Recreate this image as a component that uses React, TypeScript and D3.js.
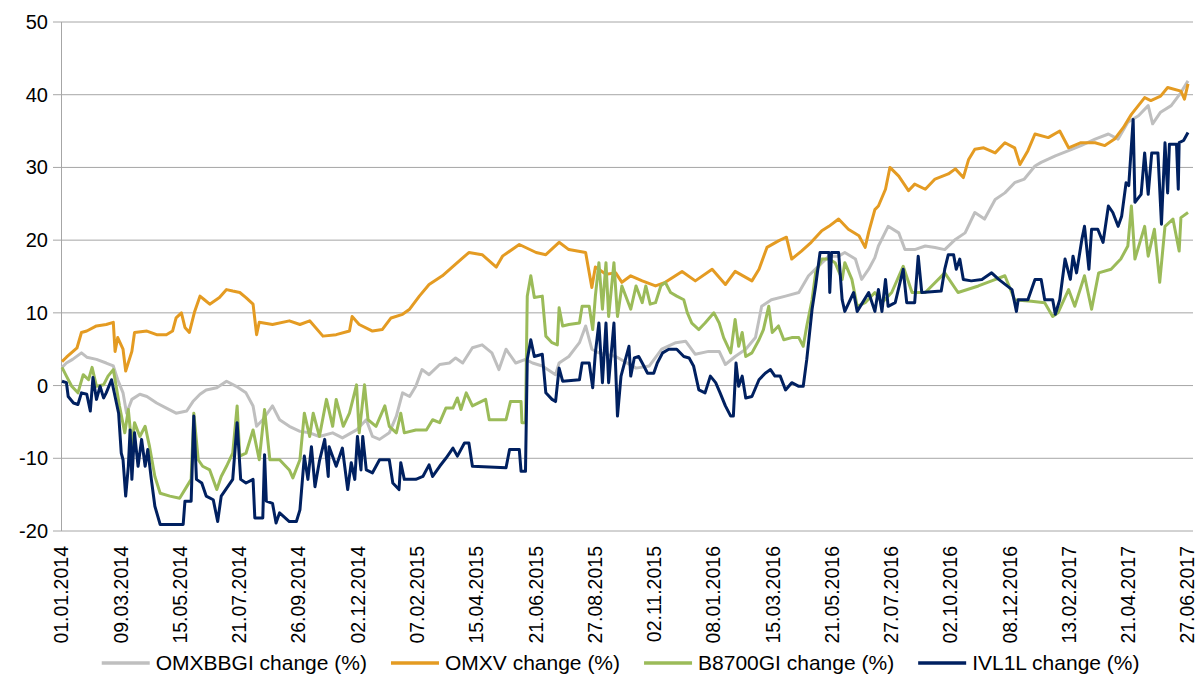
import * as React from "react";
import * as d3 from "d3";

// day offsets counted from 01.01.2014, value = change in %
const START = "2014-01-01";

const xTickLabels = [
  "01.01.2014", "09.03.2014", "15.05.2014", "21.07.2014", "26.09.2014",
  "02.12.2014", "07.02.2015", "15.04.2015", "21.06.2015", "27.08.2015",
  "02.11.2015", "08.01.2016", "15.03.2016", "21.05.2016", "27.07.2016",
  "02.10.2016", "08.12.2016", "13.02.2017", "21.04.2017", "27.06.2017",
];
const yTicks = [-20, -10, 0, 10, 20, 30, 40, 50];

const seriesNames = ["OMXBBGI change (%)", "OMXV change (%)", "B8700GI change (%)", "IVL1L change (%)"];
const seriesColors = ["#bfbfbf", "#e49b22", "#9bbb59", "#002060"];

const omxbbgi: [number, number][] = [
  [0, 2.5], [5, 3.1], [12, 3.6], [22, 4.5], [28, 3.9], [39, 3.6], [50, 3.1], [58, 2.7],
  [63, 0.8], [69, -1.0], [73, -3.8], [79, -1.9], [88, -1.2], [96, -1.5], [107, -2.4],
  [118, -3.1], [129, -3.8], [141, -3.5], [148, -2.2], [156, -1.2], [163, -0.6], [175, -0.3],
  [186, 0.6], [197, -0.1], [208, -1.0], [216, -2.8], [220, -5.6], [227, -4.7], [238, -2.8],
  [246, -4.7], [257, -5.6], [269, -6.3], [280, -6.5], [291, -7.0], [306, -6.5], [317, -7.2],
  [333, -6.1], [344, -4.7], [351, -7.0], [359, -7.4], [370, -6.5], [378, -4.2], [385, -1.0],
  [393, -1.5], [400, -0.1], [407, 2.2], [415, 1.5], [427, 2.9], [438, 3.1], [445, 3.8],
  [453, 3.1], [464, 5.2], [475, 5.6], [486, 4.5], [494, 2.2], [502, 5.0], [513, 3.1],
  [524, 3.6], [532, 3.1], [543, 2.7], [558, 1.5], [562, 3.1], [573, 4.0], [585, 5.9],
  [592, 8.2], [599, 5.0], [607, 4.5], [626, 4.0], [649, 2.4], [664, 2.7], [678, 5.0],
  [694, 5.9], [705, 6.1], [716, 4.3], [731, 4.7], [743, 4.7], [750, 2.9], [761, 4.0],
  [773, 5.0], [784, 6.6], [791, 10.9], [802, 11.8], [818, 12.3], [833, 12.8], [844, 15.1],
  [855, 16.4], [867, 17.8], [878, 17.8], [885, 18.3], [897, 17.4], [904, 14.6], [912, 16.0],
  [919, 17.6], [923, 19.2], [934, 21.9], [946, 21.0], [953, 18.7], [964, 18.7], [976, 19.2],
  [987, 19.0], [998, 18.7], [1010, 20.1], [1021, 21.0], [1032, 23.8], [1043, 22.9],
  [1055, 25.6], [1066, 26.5], [1077, 27.9], [1088, 28.4], [1100, 30.2], [1107, 30.7],
  [1123, 31.6], [1138, 32.3], [1152, 33.0], [1168, 33.9], [1183, 34.6], [1194, 33.9],
  [1205, 36.2], [1217, 37.1], [1228, 38.5], [1233, 36.0], [1242, 37.6], [1254, 38.5],
  [1265, 40.3], [1273, 41.9],
];

const omxv: [number, number][] = [
  [0, 3.3], [5, 3.9], [17, 5.2], [22, 7.3], [28, 7.5], [39, 8.2], [50, 8.4], [58, 8.7],
  [60, 4.7], [63, 6.6], [69, 5.0], [72, 2.0], [79, 4.7], [82, 7.3], [96, 7.5], [107, 7.0],
  [118, 7.0], [125, 7.5], [129, 9.3], [135, 10.0], [139, 8.0], [144, 7.3], [150, 10.2],
  [156, 12.3], [161, 11.8], [167, 11.2], [178, 12.1], [186, 13.2], [193, 13.0], [201, 12.8],
  [208, 12.1], [216, 11.2], [220, 7.0], [223, 8.7], [238, 8.4], [257, 8.9], [269, 8.4],
  [280, 8.9], [295, 6.8], [310, 7.0], [325, 7.5], [328, 9.5], [336, 8.4], [351, 7.5],
  [362, 7.7], [372, 9.3], [385, 9.8], [393, 10.5], [404, 12.3], [415, 13.9], [430, 15.1],
  [445, 16.7], [460, 18.3], [475, 18.0], [491, 16.3], [498, 17.8], [517, 19.4], [536, 18.3],
  [547, 18.0], [562, 19.7], [573, 18.7], [592, 18.3], [599, 13.5], [603, 16.3], [615, 15.3],
  [626, 15.5], [633, 14.2], [643, 15.1], [656, 14.4], [671, 13.7], [682, 14.2], [701, 15.7],
  [716, 14.4], [735, 16.0], [750, 13.9], [761, 15.7], [780, 14.4], [788, 16.0], [797, 19.0],
  [810, 19.9], [819, 20.4], [825, 17.4], [836, 18.5], [847, 19.7], [859, 21.3], [867, 21.9],
  [878, 22.9], [889, 21.5], [901, 20.6], [908, 19.0], [912, 21.1], [919, 24.2], [923, 24.7],
  [931, 27.0], [936, 30.0], [946, 28.8], [957, 26.8], [964, 27.7], [976, 27.0], [987, 28.4],
  [1002, 29.1], [1010, 29.8], [1019, 28.6], [1025, 31.1], [1032, 32.5], [1042, 32.7],
  [1055, 32.0], [1066, 33.4], [1077, 32.7], [1083, 30.4], [1092, 32.3], [1100, 34.6],
  [1115, 34.1], [1128, 35.0], [1138, 32.7], [1152, 33.4], [1168, 33.4], [1179, 33.0],
  [1190, 33.9], [1200, 35.5], [1209, 37.3], [1224, 39.6], [1231, 39.2], [1242, 39.8],
  [1250, 41.0], [1265, 40.5], [1269, 39.4], [1273, 41.5],
];

const b8700gi: [number, number][] = [
  [0, 2.5], [5, 1.3], [11, -0.1], [18, -1.0], [24, 1.5], [30, 0.8], [34, 2.5], [39, -0.1],
  [47, 0.1], [52, 1.3], [58, 2.2], [60, 0.8], [65, -2.8], [71, -6.5], [75, -3.3], [79, -8.4],
  [82, -5.1], [88, -7.0], [94, -5.6], [99, -8.4], [105, -12.5], [111, -14.8], [122, -15.2],
  [133, -15.5], [141, -13.9], [146, -12.9], [149, -3.8], [154, -10.2], [159, -11.1],
  [167, -11.6], [175, -14.3], [180, -12.5], [186, -11.1], [193, -9.3], [198, -2.8],
  [201, -9.7], [208, -9.3], [216, -6.1], [223, -10.2], [229, -3.3], [235, -10.2],
  [246, -10.2], [257, -11.6], [261, -12.7], [269, -10.2], [274, -3.8], [280, -7.0],
  [284, -3.8], [291, -7.0], [299, -1.9], [306, -5.6], [310, -1.9], [318, -5.6], [325, -3.8],
  [333, 0.1], [336, -6.5], [342, 0.1], [346, -4.7], [355, -5.6], [365, -2.8], [370, -5.6],
  [378, -6.5], [383, -3.8], [387, -6.5], [400, -6.1], [412, -6.1], [419, -4.7], [427, -5.1],
  [434, -3.1], [442, -3.1], [447, -1.7], [451, -3.3], [457, -1.0], [464, -2.8], [479, -1.9],
  [483, -4.7], [502, -4.7], [507, -2.2], [519, -2.2], [520, -5.1], [524, -5.1], [526, 12.3],
  [530, 15.1], [534, 12.1], [543, 12.3], [547, 6.8], [554, 5.9], [560, 5.6], [562, 10.7],
  [566, 8.2], [573, 8.4], [585, 8.6], [588, 10.9], [596, 10.9], [600, 7.7], [603, 12.3],
  [607, 16.9], [611, 10.5], [615, 16.9], [618, 9.5], [624, 16.9], [628, 9.5], [633, 13.7],
  [643, 10.5], [649, 13.7], [656, 11.4], [660, 13.7], [665, 11.2], [671, 11.4], [677, 13.7],
  [682, 14.2], [688, 12.8], [695, 12.3], [703, 11.8], [707, 10.0], [712, 8.6], [720, 7.7],
  [727, 8.6], [737, 10.0], [743, 8.6], [748, 6.6], [756, 4.5], [761, 9.1], [765, 5.4],
  [769, 7.3], [773, 4.0], [780, 4.5], [788, 6.3], [793, 7.7], [799, 10.9], [803, 7.3],
  [810, 8.2], [816, 6.3], [825, 6.6], [833, 6.6], [838, 5.4], [842, 8.2], [848, 11.8],
  [852, 15.5], [859, 17.4], [867, 17.4], [874, 16.9], [882, 14.6], [885, 16.9], [893, 14.6],
  [899, 10.9], [908, 11.4], [919, 12.8], [927, 11.4], [938, 12.8], [951, 16.4], [961, 12.8],
  [976, 12.8], [998, 15.5], [1013, 12.8], [1036, 13.7], [1051, 14.4], [1066, 15.1],
  [1077, 11.8], [1096, 11.6], [1111, 11.4], [1120, 9.5], [1126, 10.0], [1138, 13.2],
  [1145, 10.9], [1156, 15.1], [1164, 10.5], [1172, 15.5], [1186, 16.0], [1197, 17.4],
  [1205, 19.2], [1209, 24.7], [1213, 17.4], [1224, 21.9], [1228, 17.8], [1235, 21.5],
  [1241, 14.2], [1247, 21.9], [1256, 22.9], [1263, 18.5], [1265, 23.1], [1273, 23.8],
];

const ivl1l: [number, number][] = [
  [0, 0.6], [5, 0.4], [7, -1.5], [13, -2.4], [18, -2.6], [22, -1.0], [28, -1.2], [32, -3.5],
  [35, 1.1], [39, -1.9], [43, -0.1], [47, -1.7], [50, -1.0], [56, 0.8], [60, -1.5],
  [64, -3.8], [67, -9.3], [69, -10.2], [72, -15.2], [75, -11.1], [77, -6.1], [79, -12.9],
  [82, -6.5], [86, -11.1], [90, -7.4], [94, -11.1], [97, -8.8], [101, -12.9], [105, -16.6],
  [111, -19.1], [137, -19.1], [139, -15.9], [146, -15.9], [149, -4.2], [152, -12.9],
  [158, -13.4], [163, -15.2], [171, -15.7], [176, -18.7], [180, -15.2], [193, -12.9],
  [198, -5.1], [202, -12.9], [208, -13.4], [216, -12.9], [218, -18.2], [227, -18.2],
  [229, -9.5], [231, -15.9], [238, -16.2], [242, -18.9], [246, -17.5], [257, -18.7],
  [265, -18.7], [269, -17.1], [274, -9.7], [278, -12.9], [282, -8.4], [286, -13.9],
  [291, -10.4], [297, -7.4], [301, -12.5], [302, -8.4], [310, -11.1], [317, -8.6],
  [323, -14.3], [327, -10.6], [331, -12.9], [334, -7.0], [338, -11.6], [340, -7.0],
  [344, -11.6], [351, -12.0], [359, -10.2], [370, -10.2], [374, -13.4], [381, -14.3],
  [383, -10.6], [387, -12.9], [400, -12.9], [408, -12.5], [415, -10.9], [419, -12.5],
  [427, -11.1], [434, -10.0], [442, -8.6], [447, -9.7], [455, -7.9], [460, -7.9],
  [464, -11.1], [502, -11.3], [506, -8.8], [517, -8.8], [519, -11.8], [524, -11.8],
  [526, 3.6], [530, 6.3], [534, 4.0], [543, 4.3], [547, -1.0], [554, -1.9], [558, -2.2],
  [562, 2.4], [566, 0.6], [585, 0.8], [588, 3.1], [596, 3.1], [600, -0.3], [603, 4.5],
  [607, 8.6], [611, 0.4], [615, 8.6], [618, 0.4], [624, 8.6], [628, -4.2], [632, 1.3],
  [637, 3.6], [641, 5.4], [643, 1.3], [647, 3.8], [652, 4.0], [656, 3.1], [662, 1.7],
  [669, 1.7], [673, 3.1], [679, 4.5], [686, 5.0], [695, 5.0], [703, 4.0], [709, 3.8],
  [714, 2.7], [720, -0.6], [727, -1.0], [733, 1.3], [739, 0.4], [744, -1.0], [750, -2.8],
  [756, -4.2], [759, -4.2], [762, 3.1], [765, -0.1], [769, 1.3], [773, -1.7], [780, -1.5],
  [788, 0.8], [795, 1.7], [801, 2.2], [806, 1.3], [812, 1.3], [818, -0.6], [825, 0.4],
  [833, -0.1], [838, -0.1], [842, 3.6], [848, 10.5], [852, 13.7], [857, 18.3], [867, 18.3],
  [868, 12.8], [870, 18.3], [878, 18.3], [882, 11.8], [885, 10.2], [895, 12.8], [899, 10.2],
  [912, 12.8], [919, 10.2], [923, 13.2], [927, 10.2], [931, 14.6], [934, 10.9], [942, 11.4],
  [951, 16.0], [955, 11.4], [964, 11.4], [968, 17.8], [972, 12.8], [994, 13.0], [998, 16.0],
  [1002, 18.0], [1008, 18.0], [1011, 16.0], [1015, 17.4], [1019, 14.6], [1028, 14.4],
  [1040, 14.6], [1051, 15.5], [1059, 14.6], [1074, 13.2], [1079, 10.2], [1081, 11.8],
  [1092, 11.8], [1100, 14.6], [1107, 14.6], [1111, 11.8], [1120, 11.8], [1123, 9.8],
  [1128, 11.8], [1134, 17.4], [1140, 14.6], [1143, 17.8], [1147, 15.5], [1153, 20.1],
  [1156, 21.9], [1161, 16.0], [1164, 21.5], [1171, 21.5], [1177, 19.7], [1183, 24.7],
  [1188, 23.8], [1194, 21.9], [1198, 23.3], [1203, 27.9], [1206, 27.5], [1211, 36.6],
  [1213, 25.2], [1220, 26.3], [1224, 32.0], [1228, 26.3], [1232, 32.0], [1239, 32.0],
  [1243, 22.2], [1247, 33.4], [1250, 26.5], [1252, 33.2], [1260, 33.2], [1262, 27.0],
  [1263, 33.4], [1268, 33.7], [1273, 34.8],
];

const allSeries = [omxbbgi, omxv, b8700gi, ivl1l];

const WIDTH = 1198;
const HEIGHT = 689;
const FONT = "'Liberation Sans', Arial, sans-serif";

export default function App() {
  const base = d3.timeParse("%Y-%m-%d")(START) as Date;
  const parseTick = d3.timeParse("%d.%m.%Y");
  const tickDates = xTickLabels.map(s => parseTick(s) as Date);

  const plot = { left: 62, right: 1193, top: 22, bottom: 531 };

  const x = d3.scaleTime()
    .domain([base, tickDates[tickDates.length - 1]])
    .range([plot.left, 1188]);
  const y = d3.scaleLinear().domain([-20, 50]).range([plot.bottom, plot.top]);

  const line = d3.line<[number, number]>()
    .x(d => x(d3.timeDay.offset(base, d[0])))
    .y(d => y(d[1]));

  // legend layout: measure the labels so the row can be centred like the original
  const legendFont = `21px ${FONT}`;
  const ctx = document.createElement("canvas").getContext("2d");
  let widths = seriesNames.map(n => n.length * 11);
  if (ctx) {
    ctx.font = "21px 'Liberation Sans'";
    widths = seriesNames.map(n => ctx.measureText(n).width);
  }
  const swatch = 48, pad = 6, gap = 24;
  const total = widths.reduce((a, w) => a + swatch + pad + w, 0) + gap * (widths.length - 1);
  let cursor = 621 - total / 2;
  const legendItems = widths.map((w, i) => {
    const item = { x: cursor, w };
    cursor += swatch + pad + w + gap;
    return item;
  });
  const legendY = 663;

  return (
    <svg width={WIDTH} height={HEIGHT} style={{ display: "block", position: "absolute", left: 0, top: 0, background: "#fff" }}
      fontFamily={FONT}>
      {/* horizontal gridlines */}
      {yTicks.map(t => (
        <line key={"g" + t} x1={plot.left} x2={plot.right} y1={y(t)} y2={y(t)}
          stroke="#a6a6a6" strokeWidth={1} />
      ))}
      {/* y axis with small outside ticks */}
      <line x1={plot.left - 0.5} x2={plot.left - 0.5} y1={plot.top} y2={plot.bottom} stroke="#a6a6a6" />
      {yTicks.map(t => (
        <g key={"y" + t}>
          <line x1={plot.left - 9} x2={plot.left} y1={y(t)} y2={y(t)} stroke="#a6a6a6" />
          <text x={48} y={y(t)} dy="0.35em" textAnchor="end" fontSize={20} fill="#000">{t}</text>
        </g>
      ))}

      {/* series, navy drawn last so it sits on top */}
      {allSeries.map((s, i) => (
        <path key={seriesNames[i]} d={line(s) || ""} fill="none" stroke={seriesColors[i]}
          strokeWidth={3} strokeLinejoin="round" />
      ))}

      {/* x labels, rotated */}
      {tickDates.map((d, i) => (
        <text key={xTickLabels[i]} transform={`translate(${x(d)},${plot.bottom + 15}) rotate(-90)`}
          textAnchor="end" dy="0.33em" fontSize={19.5} fill="#000">{xTickLabels[i]}</text>
      ))}

      {/* legend */}
      {legendItems.map((it, i) => (
        <g key={"l" + i}>
          <line x1={it.x} x2={it.x + swatch} y1={legendY} y2={legendY} stroke={seriesColors[i]} strokeWidth={3.5} />
          <text x={it.x + swatch + pad} y={legendY} dy="0.35em" style={{ font: legendFont }} fill="#000">
            {seriesNames[i]}
          </text>
        </g>
      ))}
    </svg>
  );
}
